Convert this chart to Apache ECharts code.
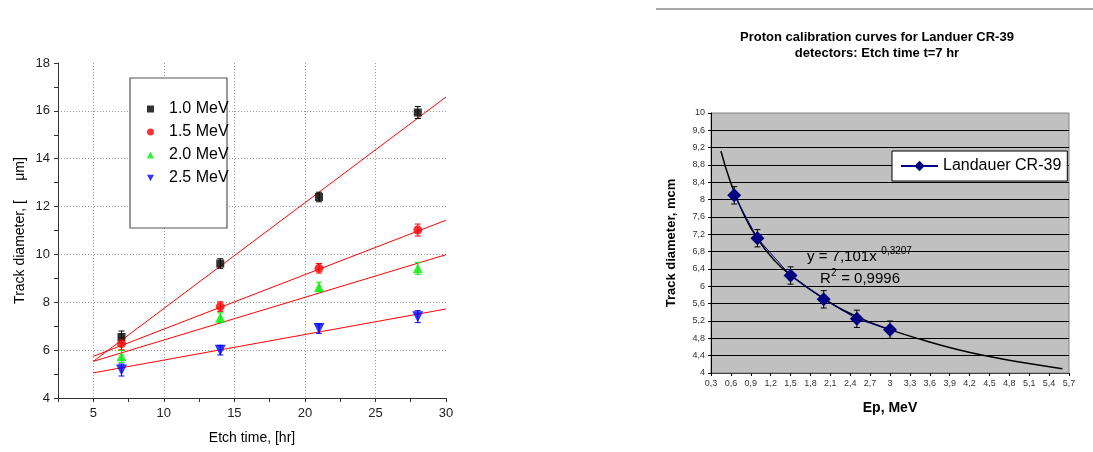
<!DOCTYPE html>
<html>
<head>
<meta charset="utf-8">
<script src="https://cdn.jsdelivr.net/npm/echarts@6/dist/echarts.min.js"></script>
<style>
html, body { margin: 0; padding: 0; background: #fff; }
#chart { width: 1093px; height: 452px; }
</style>
</head>
<body>
<div id="chart"></div>
<script>
// left panel: track diameter vs etch time
const etchTimes = [7, 14, 21, 28];
const energyNames = ["1.0 MeV", "1.5 MeV", "2.0 MeV", "2.5 MeV"];
const d10 = [6.55, 9.62, 12.4, 15.93];
const d15 = [6.27, 7.82, 9.42, 11.02];
const d20 = [5.74, 7.36, 8.64, 9.42];
const d25 = [5.17, 6.0, 6.9, 7.4];
const leftErr = [0.25, 0.2, 0.2, 0.25];
// fit lines, read at t = 5 and t = 30
const fitT = [5, 30];
const fit10 = [5.53, 16.58];
const fit15 = [5.74, 11.43];
const fit20 = [5.53, 9.99];
const fit25 = [5.05, 7.72];

// right panel: Landauer CR-39, t = 7 hr
const epValues = [0.65, 1.0, 1.5, 2.0, 2.5, 3.0];
const crDiam = [8.1, 7.11, 6.25, 5.7, 5.25, 5.0];
const crErr = [0.2, 0.2, 0.2, 0.2, 0.2, 0.2];
// power trend line
const trendX = [0.45, 0.6, 0.8, 1.0, 1.25, 1.5, 2.0, 2.5, 3.0, 3.5, 4.0, 4.5, 5.0, 5.6];
const trendY = [9.12, 8.38, 7.64, 7.1, 6.61, 6.26, 5.72, 5.3, 5.0, 4.76, 4.55, 4.38, 4.24, 4.1];

const font = "Liberation Sans, Arial, sans-serif";
const comma = (v) => String(Math.round(v * 10) / 10).replace(".", ",");

function errorBars(params, api) {
  const x = api.value(0);
  const lo = api.coord([x, api.value(1)]);
  const hi = api.coord([x, api.value(2)]);
  const w = 3;
  const style = { stroke: api.visual("color"), lineWidth: 1 };
  return {
    type: "group",
    children: [
      { type: "line", shape: { x1: lo[0], y1: lo[1], x2: hi[0], y2: hi[1] }, style },
      { type: "line", shape: { x1: lo[0] - w, y1: lo[1], x2: lo[0] + w, y2: lo[1] }, style },
      { type: "line", shape: { x1: hi[0] - w, y1: hi[1], x2: hi[0] + w, y2: hi[1] }, style },
    ],
  };
}

const leftSets = [
  { name: energyNames[0], d: d10, fit: fit10, color: "#000000", symbol: "rect", size: 8 },
  { name: energyNames[1], d: d15, fit: fit15, color: "#ff0000", symbol: "circle", size: 9 },
  { name: energyNames[2], d: d20, fit: fit20, color: "#00ee00", symbol: "triangle", size: 10 },
  { name: energyNames[3], d: d25, fit: fit25, color: "#0000ff", symbol: "path://M0,0 L10,0 L5,9 Z", size: 11 },
];

const series = [];
leftSets.forEach((s) => {
  series.push({
    type: "line", xAxisIndex: 0, yAxisIndex: 0, name: s.name + " fit",
    data: fitT.map((t, i) => [t, s.fit[i]]),
    symbol: "none", lineStyle: { color: "#ff0000", width: 1 }, z: 2, silent: true,
  });
  series.push({
    type: "custom", xAxisIndex: 0, yAxisIndex: 0, name: s.name + " err",
    itemStyle: { color: s.color }, renderItem: errorBars, z: 3,
    data: etchTimes.map((t, i) => [t, s.d[i] - leftErr[i], s.d[i] + leftErr[i]]),
  });
  series.push({
    type: "scatter", xAxisIndex: 0, yAxisIndex: 0, name: s.name,
    data: etchTimes.map((t, i) => [t, s.d[i]]),
    symbol: s.symbol, symbolSize: s.size, itemStyle: { color: s.color }, z: 4,
  });
});

series.push({
  type: "line", xAxisIndex: 2, yAxisIndex: 1, name: "trend",
  data: trendX.map((x, i) => [x, trendY[i]]),
  smooth: true, symbol: "none", lineStyle: { color: "#000", width: 1.5 }, z: 2, silent: true,
});
series.push({
  type: "custom", xAxisIndex: 2, yAxisIndex: 1, name: "cr err",
  itemStyle: { color: "#000" }, renderItem: errorBars, z: 3,
  data: epValues.map((x, i) => [x, crDiam[i] - crErr[i], crDiam[i] + crErr[i]]),
});
series.push({
  type: "line", xAxisIndex: 2, yAxisIndex: 1, name: "Landauer CR-39",
  data: epValues.map((x, i) => [x, crDiam[i]]),
  symbol: "diamond", symbolSize: 14,
  itemStyle: { color: "#000080" }, lineStyle: { color: "#000080", width: 1 }, z: 4,
});

const dotted = { show: true, showMinLine: false, showMaxLine: false, lineStyle: { color: "#999", type: [1, 2], width: 1 } };

const option = {
  animation: false,
  textStyle: { fontFamily: font },
  title: {
    text: "Proton calibration curves for Landuer CR-39\ndetectors: Etch time t=7 hr",
    left: 872, top: 24, textAlign: "center",
    textStyle: { fontSize: 13, fontWeight: "bold", lineHeight: 16, color: "#000", fontFamily: font },
  },
  grid: [
    { left: 58, top: 63, right: 647, bottom: 54 },
    { left: 711, top: 113, right: 24, bottom: 79, show: true, backgroundColor: "#c0c0c0", borderColor: "#808080", borderWidth: 1 },
  ],
  xAxis: [
    {
      gridIndex: 0, type: "value", min: 2.5, max: 30, interval: 2.5,
      name: "Etch time, [hr]", nameLocation: "middle", nameGap: 33,
      nameTextStyle: { fontSize: 14, color: "#000" },
      axisLine: { lineStyle: { color: "#333" } },
      axisTick: { length: 4, lineStyle: { color: "#333" } },
      axisLabel: { fontSize: 13, color: "#222", margin: 9, formatter: (v) => (v % 5 === 0 ? v : "") },
      splitLine: { show: false },
    },
    {
      gridIndex: 0, type: "value", min: 2.5, max: 30, splitNumber: 5,
      axisLine: { show: false }, axisTick: { show: false }, axisLabel: { show: false },
      splitLine: dotted,
    },
    {
      gridIndex: 1, type: "value", min: 0.3, max: 5.7, interval: 0.3,
      name: "Ep, MeV", nameLocation: "middle", nameGap: 28,
      nameTextStyle: { fontSize: 14, fontWeight: "bold", color: "#000" },
      axisLine: { lineStyle: { color: "#404040" } },
      axisTick: { length: 3, lineStyle: { color: "#000" } },
      axisLabel: { fontSize: 9, color: "#333", margin: 6, formatter: comma },
      splitLine: { show: false },
    },
  ],
  yAxis: [
    {
      gridIndex: 0, type: "value", min: 4, max: 18, interval: 2,
      name: "Track diameter, [     \u03bcm]", nameLocation: "middle", nameGap: 31,
      nameTextStyle: { fontSize: 14, color: "#000" },
      axisLine: { show: true, lineStyle: { color: "#333" } },
      axisTick: { show: true, length: 4, lineStyle: { color: "#333" } },
      minorTick: { show: true, splitNumber: 2, length: 4, lineStyle: { color: "#333" } },
      axisLabel: { fontSize: 13, color: "#222", margin: 8 },
      splitLine: dotted,
    },
    {
      gridIndex: 1, type: "value", min: 4, max: 10, interval: 0.4,
      name: "Track diameter, mcm", nameLocation: "middle", nameGap: 33,
      nameTextStyle: { fontSize: 13, fontWeight: "bold", color: "#000" },
      axisLine: { show: true, lineStyle: { color: "#000" } },
      axisTick: { show: true, length: 3, lineStyle: { color: "#000" } },
      axisLabel: { fontSize: 9, color: "#333", margin: 6, formatter: comma },
      splitLine: { show: true, showMinLine: false, showMaxLine: false, lineStyle: { color: "#000", width: 1 } },
    },
  ],
  legend: [
    {
      data: energyNames, orient: "vertical", left: 142, top: 96,
      itemWidth: 7, itemHeight: 7, itemGap: 7, z: 5,
      textStyle: { fontSize: 16, color: "#000", lineHeight: 16, padding: [0, 0, 0, 10] },
    },
    {
      data: ["Landauer CR-39"], left: 892, top: 151,
      padding: [7, 6, 7, 8], backgroundColor: "#fff", borderColor: "#000", borderWidth: 1,
      itemWidth: 37, itemHeight: 13,
      textStyle: { fontSize: 16, color: "#000" },
    },
  ],
  graphic: [
    { type: "rect", z: 1, shape: { x: 130, y: 78, width: 97, height: 150 }, style: { fill: "#fff", stroke: "#555", lineWidth: 1.2 } },
    { type: "line", shape: { x1: 656, y1: 9, x2: 1093, y2: 9 }, style: { stroke: "#555", lineWidth: 1 } },
    { type: "text", x: 807, y: 257, z: 10, style: { text: "y = 7,101x", font: "15px " + font, fill: "#000", verticalAlign: "middle" } },
    { type: "text", x: 878, y: 251, z: 10, style: { text: "-0,3207", font: "10px " + font, fill: "#000", verticalAlign: "middle" } },
    { type: "text", x: 820, y: 279, z: 10, style: { text: "R", font: "15px " + font, fill: "#000", verticalAlign: "middle" } },
    { type: "text", x: 831, y: 273, z: 10, style: { text: "2", font: "10px " + font, fill: "#000", verticalAlign: "middle" } },
    { type: "text", x: 837, y: 279, z: 10, style: { text: " = 0,9996", font: "15px " + font, fill: "#000", verticalAlign: "middle" } },
  ],
  series: series,
};

const mychart = echarts.init(document.getElementById("chart"));
mychart.setOption(option);
</script>
</body>
</html>
